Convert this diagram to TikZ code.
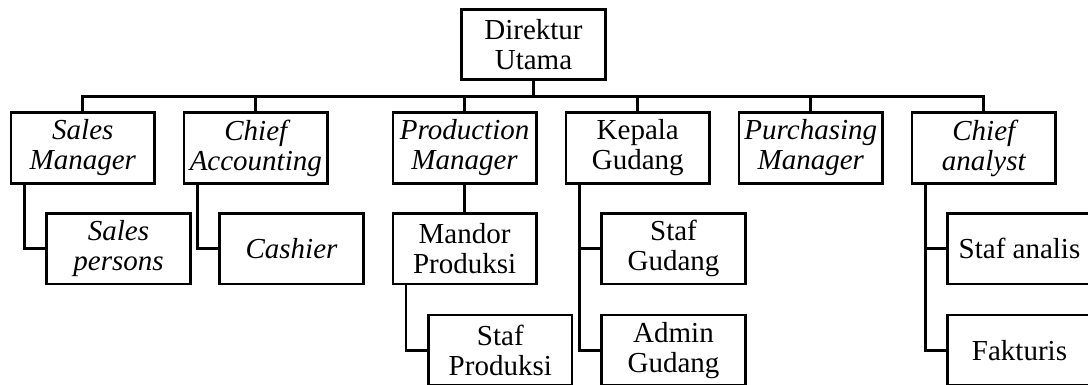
\documentclass[tikz,border=0pt]{standalone}
\usepackage{fontspec}
\setmainfont{Liberation Serif}
\newcommand{\boxfont}{\fontsize{29}{30}\selectfont}
\begin{document}
\begin{tikzpicture}[x=1pt,y=-1pt,
  box/.style={draw, line width=2.7pt, minimum width=143.5pt, minimum height=70.5pt, inner sep=0pt, align=center, font=\boxfont},
  itbox/.style={box, font=\boxfont\itshape},
  conn/.style={line width=2.7pt}]
\useasboundingbox (0,0) rectangle (1088,384);
% top
\node[box] (D) at (533.5,44.5) {Direktur\\Utama};
% row 1
\node[itbox] (SM) at (82.8,148) {Sales\\Manager};
\node[itbox] (CA) at (255.8,148) {Chief\\Accounting};
\node[itbox] (PM) at (464.6,148) {Production\\Manager};
\node[box]   (KG) at (637.8,148) {Kepala\\Gudang};
\node[itbox] (PU) at (810.8,148) {Purchasing\\Manager};
\node[itbox] (CH) at (983.8,148) {Chief\\analyst};
% row 2
\node[itbox] (SP) at (118.5,248.8) {Sales\\persons};
\node[itbox] (CS) at (291.5,248.8) {Cashier};
\node[box]   (MP) at (464.6,248.8) {Mandor\\Produksi};
\node[box]   (SG) at (673.5,248.8) {Staf\\Gudang};
\node[box]   (SA) at (1019.5,248.8) {Staf analis};
% row 3
\node[box]   (ST) at (500.3,350.3) {Staf\\Produksi};
\node[box]   (AG) at (673.5,350.3) {Admin\\Gudang};
\node[box]   (FK) at (1019.5,350.3) {Fakturis};
% bus
\coordinate (bus) at (533.5,96.5);
\draw[conn] (D.south) -- (bus);
\draw[conn] (SM.north) -- (SM.north |- bus) -- (CH.north |- bus) -- (CH.north);
\draw[conn] (CA.north) -- (CA.north |- bus);
\draw[conn] (PM.north) -- (PM.north |- bus);
\draw[conn] (KG.north) -- (KG.north |- bus);
\draw[conn] (PU.north) -- (PU.north |- bus);
% children
\draw[conn] ([xshift=14.5pt]SM.south west) |- (SP.west);
\draw[conn] ([xshift=14.5pt]CA.south west) |- (CS.west);
\draw[conn] (PM.south) -- (MP.north);
\draw[conn] ([xshift=14.5pt]MP.south west) |- (ST.west);
\draw[conn] ([xshift=14.5pt]KG.south west) |- (SG.west);
\draw[conn] ([xshift=14.5pt]KG.south west) |- (AG.west);
\draw[conn] ([xshift=15pt]CH.south west) |- (SA.west);
\draw[conn] ([xshift=15pt]CH.south west) |- (FK.west);
\end{tikzpicture}
\end{document}
